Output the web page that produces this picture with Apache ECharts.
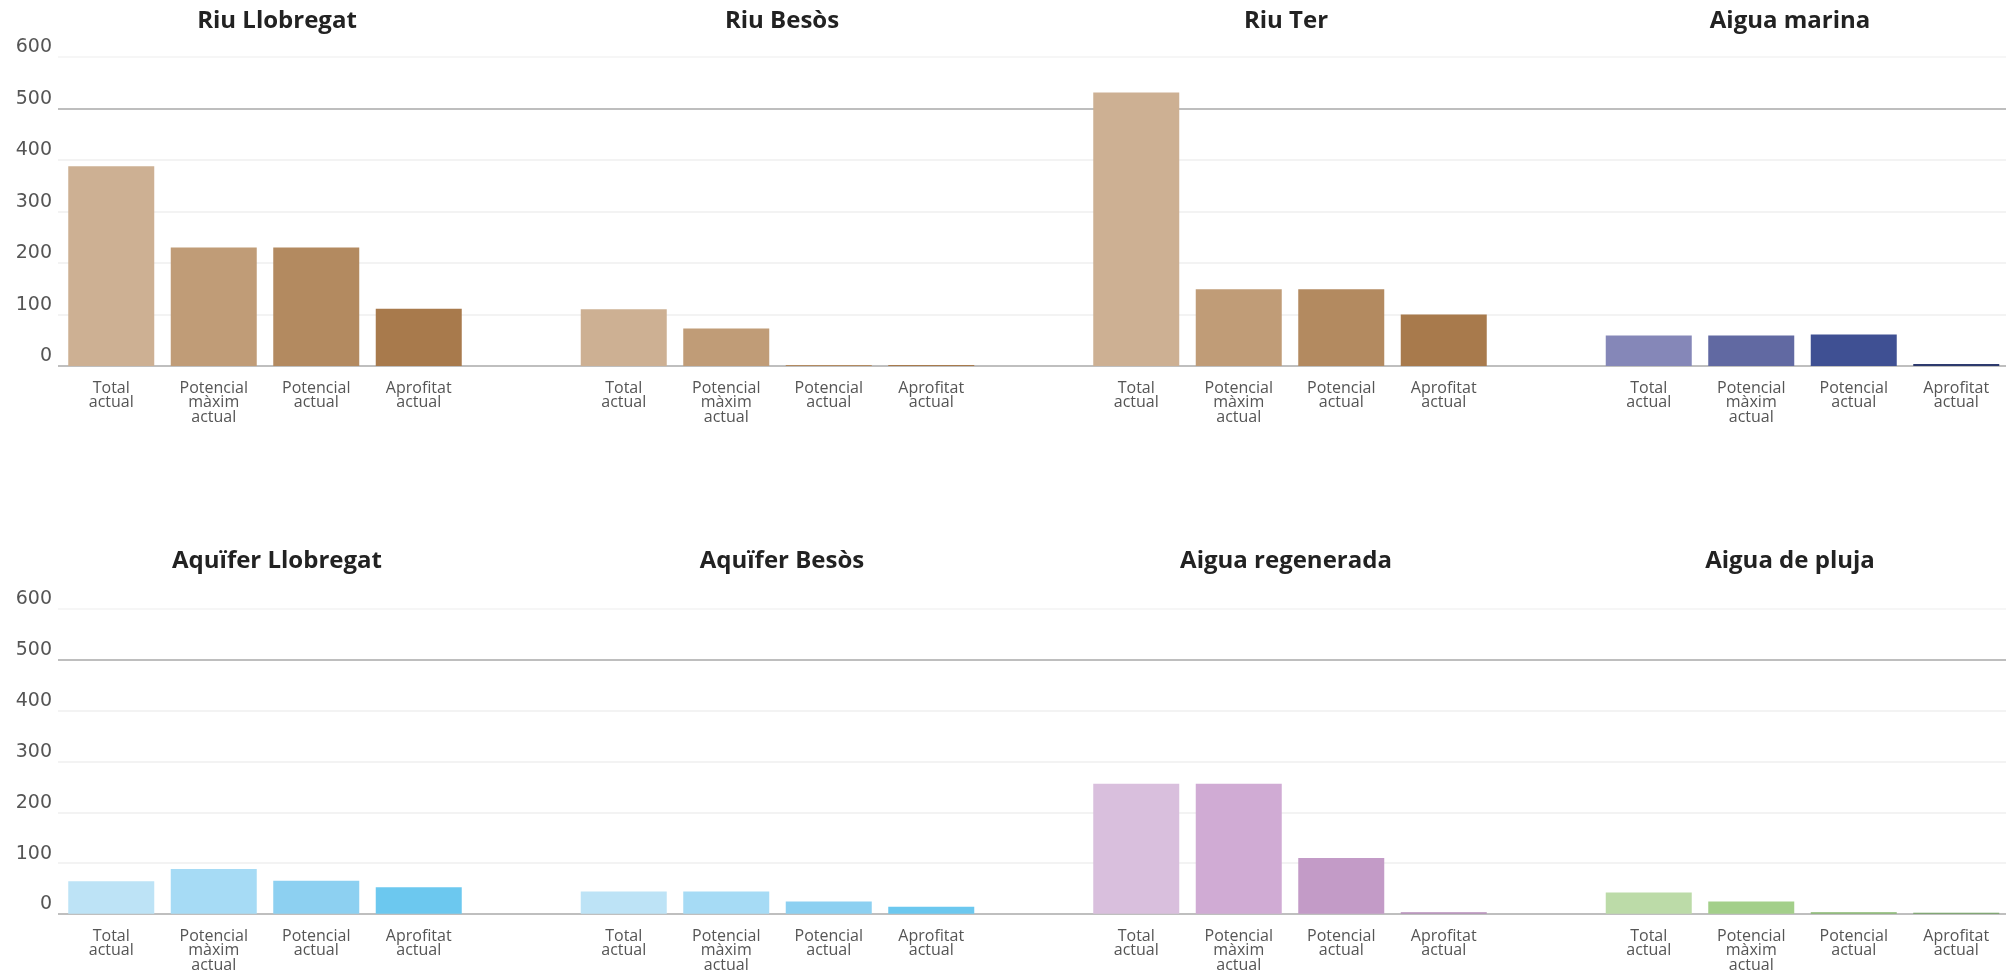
<!DOCTYPE html>
<html lang="ca">
<head>
    <meta charset="utf-8">
    <title>Recursos hídrics</title>
    <script type="text/javascript" src="https://cdn.jsdelivr.net/npm/echarts@6/dist/echarts.min.js"></script>
    <style>
        html, body { margin: 0; padding: 0; background: #fff; }
        #main { width: 2015px; height: 973px; }
    </style>
</head>
<body>
<div id="main"></div>
<script type="text/javascript">
    // categories (same for every panel)
    var categories = ['Total\nactual', 'Potencial\nmàxim\nactual', 'Potencial\nactual', 'Aprofitat\nactual'];
    var panelTitles = ['Riu Llobregat', 'Riu Besòs', 'Riu Ter', 'Aigua marina',
        'Aquïfer Llobregat', 'Aquïfer Besòs', 'Aigua regenerada', 'Aigua de pluja'];

    // values
    var riuLlobregat = [388, 230, 230, 111];
    var riuBesos = [110, 73, 2, 2];
    var riuTer = [531, 149, 149, 100];
    var aiguaMarina = [59, 59, 61, 4];
    var aquiferLlobregat = [64, 88, 65, 52];
    var aquiferBesos = [44, 44, 24, 14];
    var aiguaRegenerada = [256, 256, 110, 3];
    var aiguaPluja = [42, 24, 3, 2];
    var yMin = 0, yMax = 600, yStep = 100;

    var panelData = [riuLlobregat, riuBesos, riuTer, aiguaMarina,
        aquiferLlobregat, aquiferBesos, aiguaRegenerada, aiguaPluja];

    // bar colours per panel
    var brown = ['#cdb093', '#c09c77', '#b38a60', '#a87a4c'];
    var blue = ['#bde3f6', '#a6dbf5', '#8dd0f1', '#6cc8ef'];
    var palettes = [
        brown, brown, brown,
        ['#8587b8', '#6169a2', '#3f5093', '#2d3a6e'],
        blue, blue,
        ['#d9bfdd', '#d0abd4', '#c39bc7', '#b48bb8'],
        ['#bcdba8', '#a3cf8a', '#84b66d', '#6e9e5c']
    ];

    var font = '"Open Sans", sans-serif';
    var rows = [{ top: 57, height: 309, titleTop: 9 }, { top: 609, height: 305, titleTop: 549 }];
    var titleX = [277, 782, 1286, 1790];
    var panelLeft = [60, 572.5, 1085, 1597.5];

    var grid = [], xAxis = [], yAxis = [], series = [], title = [];

    // background grids: y labels and the long split lines
    rows.forEach(function (row) {
        var gi = grid.length;
        grid.push({ left: 58, right: 9, top: row.top, height: row.height });
        xAxis.push({ type: 'value', gridIndex: gi, show: false, min: 0, max: 1, splitLine: { show: false } });
        yAxis.push({
            type: 'value', gridIndex: gi, min: yMin, max: yMax, interval: yStep,
            axisLine: { show: false }, axisTick: { show: false },
            axisLabel: { color: '#555', fontSize: 19, fontFamily: '"DejaVu Sans", sans-serif', margin: 6, verticalAlign: 'bottom', lineHeight: 19 },
            splitLine: { lineStyle: { width: 1.5, color: ['#aaaaaa', '#efefef', '#efefef', '#efefef', '#efefef', '#a9a9a9', '#f3f3f3'] } }
        });
    });

    panelData.forEach(function (vals, p) {
        var row = rows[Math.floor(p / 4)], col = p % 4;
        var gi = grid.length;
        grid.push({ left: panelLeft[col], width: 410, top: row.top, height: row.height });
        xAxis.push({
            type: 'category', gridIndex: gi, data: categories,
            axisLine: { show: false }, axisTick: { show: false },
            axisLabel: { color: '#555', fontSize: 16, lineHeight: 14.5, fontFamily: font, margin: 15, interval: 0 }
        });
        yAxis.push({ type: 'value', gridIndex: gi, min: yMin, max: yMax, interval: yStep, show: false, splitLine: { show: false } });
        series.push({
            type: 'bar', xAxisIndex: gi, yAxisIndex: gi, barWidth: 86,
            data: vals.map(function (v, i) { return { value: v, itemStyle: { color: palettes[p][i] } }; })
        });
        title.push({
            text: panelTitles[p], left: titleX[col], top: row.titleTop, textAlign: 'center', padding: 0,
            textStyle: { fontSize: 24, fontWeight: 'bold', color: '#222', fontFamily: font }
        });
    });

    var myChart = echarts.init(document.getElementById('main'));
    myChart.setOption({
        animation: false,
        title: title,
        grid: grid,
        xAxis: xAxis,
        yAxis: yAxis,
        series: series
    });
</script>
</body>
</html>
